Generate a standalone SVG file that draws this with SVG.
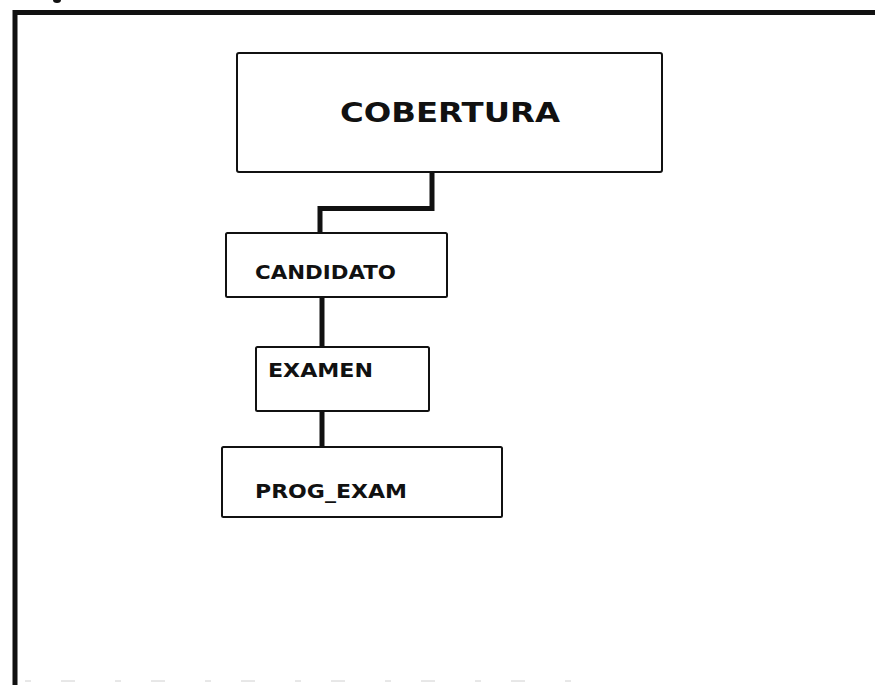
<svg xmlns="http://www.w3.org/2000/svg" width="875" height="685" viewBox="0 0 875 685">
  <style>
    .box { fill: #ffffff; stroke: #111111; stroke-width: 2; }
    .lbl { font-family: "DejaVu Sans", "Liberation Sans", sans-serif; font-weight: bold; fill: #111111; }
    .link { fill: none; stroke: #111111; stroke-width: 5; stroke-linejoin: miter; }
    .frame { fill: none; stroke: #111111; stroke-width: 5; }
  </style>
  <rect width="875" height="685" fill="#ffffff"/>

  <!-- outer frame -->
  <g id="frame">
    <path class="frame" d="M15,685 V12.5 H875"/>
    <line x1="25" y1="681" x2="600" y2="681" stroke="#d0d0d0" stroke-width="1" stroke-dasharray="6 30 14 40"/>
    <ellipse cx="57" cy="0" rx="4" ry="3" fill="#111111"/>
  </g>

  <!-- connectors -->
  <g id="connectors">
    <path class="link" d="M432,172 V208.5 H320 V233"/>
    <line class="link" x1="322" y1="297" x2="322" y2="347"/>
    <line class="link" x1="322" y1="411" x2="322" y2="447"/>
  </g>

  <g id="cobertura">
    <rect class="box" x="237" y="53" width="425" height="119" rx="2"/>
    <text class="lbl" x="340" y="122" font-size="27" textLength="220" lengthAdjust="spacingAndGlyphs">COBERTURA</text>
  </g>

  <g id="candidato">
    <rect class="box" x="226" y="233" width="221" height="64" rx="1.5"/>
    <text class="lbl" x="255" y="279" font-size="19" textLength="141" lengthAdjust="spacingAndGlyphs">CANDIDATO</text>
  </g>

  <g id="examen">
    <rect class="box" x="256" y="347" width="173" height="64" rx="1.5"/>
    <text class="lbl" x="268" y="377" font-size="19" textLength="105" lengthAdjust="spacingAndGlyphs">EXAMEN</text>
  </g>

  <g id="prog_exam">
    <rect class="box" x="222" y="447" width="280" height="70" rx="1.5"/>
    <text class="lbl" x="255" y="498" font-size="19" textLength="152" lengthAdjust="spacingAndGlyphs">PROG_EXAM</text>
  </g>
</svg>
